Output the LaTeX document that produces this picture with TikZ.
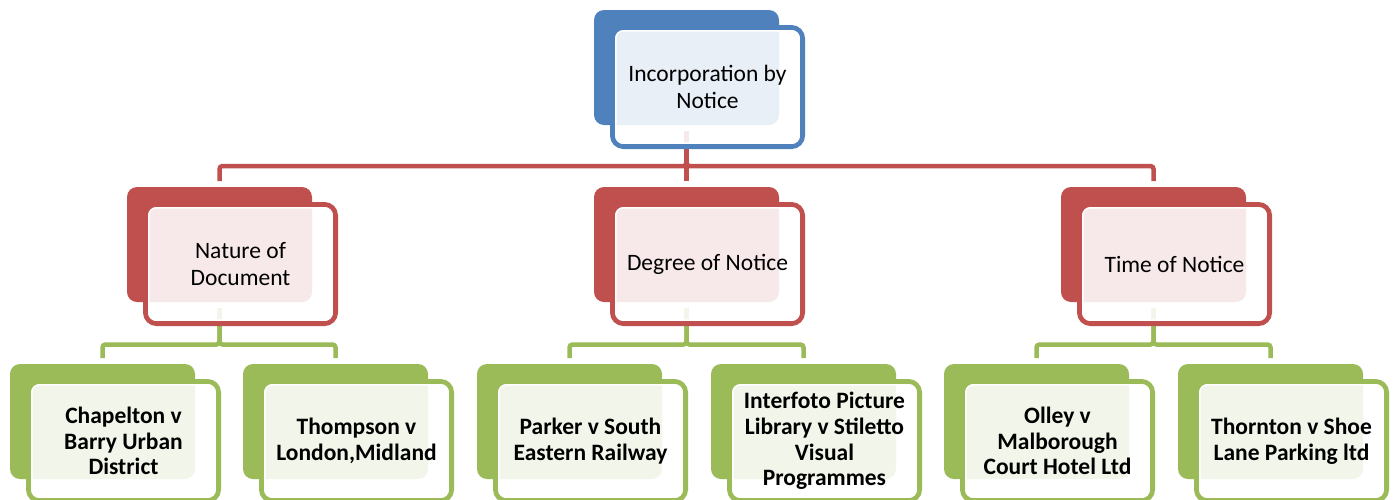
\documentclass[tikz,border=0pt]{standalone}
\usepackage{fontspec}
\setmainfont{Carlito}
\usetikzlibrary{calc}
\definecolor{cblue}{HTML}{4F81BD}
\definecolor{cred}{HTML}{C0504D}
\definecolor{cgreen}{HTML}{9BBB59}
\tikzset{
  backbox/.style={anchor=north west, minimum width=185pt, minimum height=115pt,
    inner sep=0pt, outer sep=0pt, rounded corners=10pt, fill=#1, draw=none},
  frontbox/.style={anchor=center, minimum width=190pt, minimum height=119pt,
    inner sep=0pt, outer sep=0pt, rounded corners=11pt, draw=#1, line width=5pt,
    fill=white, fill opacity=0.88, text opacity=1, align=center, text=black,
    font=\fontsize{23.5}{26.5}\selectfont},
  leafbox/.style={frontbox=#1, font=\fontsize{23.5}{25.6}\selectfont\bfseries},
  seam/.style={draw=white, line width=1.5pt, rounded corners=7.5pt},
  conn/.style={draw=#1, line width=4.5pt, rounded corners=3pt,
    shorten <=6pt, shorten >=6pt},
}
\begin{document}
\begin{tikzpicture}[x=1pt,y=-1pt]
\useasboundingbox (0,0) rectangle (1398,499);
\clip (0,0) rectangle (1398,499);
% back boxes
\node[backbox=cblue] (b0) at (594,10) {};
\node[backbox=cred] (b1) at (127,187) {};
\node[backbox=cred] (b2) at (594,187) {};
\node[backbox=cred] (b3) at (1061,187) {};
\node[backbox=cgreen] (c1) at (10,364) {};
\node[backbox=cgreen] (c2) at (243,364) {};
\node[backbox=cgreen] (c3) at (477,364) {};
\node[backbox=cgreen] (c4) at (711,364) {};
\node[backbox=cgreen] (c5) at (944,364) {};
\node[backbox=cgreen] (c6) at (1178,364) {};
% connectors
\coordinate (bus1) at (0,166);
\coordinate (bus2) at (0,344.5);
\draw[conn=cred] (b0.south) -- (b0.south |- bus1) -| (b1.north);
\draw[conn=cred] (b0.south) -- (b2.north);
\draw[conn=cred] (b0.south) -- (b0.south |- bus1) -| (b3.north);
\draw[conn=cgreen] (b1.south) -- (b1.south |- bus2) -| (c1.north);
\draw[conn=cgreen] (b1.south) -- (b1.south |- bus2) -| (c2.north);
\draw[conn=cgreen] (b2.south) -- (b2.south |- bus2) -| (c3.north);
\draw[conn=cgreen] (b2.south) -- (b2.south |- bus2) -| (c4.north);
\draw[conn=cgreen] (b3.south) -- (b3.south |- bus2) -| (c5.north);
\draw[conn=cgreen] (b3.south) -- (b3.south |- bus2) -| (c6.north);
% front boxes
\node[frontbox=cblue] (f0) at ($(b0.north west)+(113.5,77)$) {Incorporation by\\Notice};
\node[frontbox=cred] (f1) at ($(b1.north west)+(113.5,77)$) {Nature of\\Document};
\node[frontbox=cred] (f2) at ($(b2.north west)+(113.5,77)$) {Degree of Notice};
\node[frontbox=cred] (f3) at ($(b3.north west)+(113.5,77)$) {Time of Notice};
\node[leafbox=cgreen] (g1) at ($(c1.north west)+(113.5,77)$) {Chapelton v\\Barry Urban\\District};
\node[leafbox=cgreen] (g2) at ($(c2.north west)+(113.5,77)$) {Thompson v\\London,Midland};
\node[leafbox=cgreen] (g3) at ($(c3.north west)+(113.5,77)$) {Parker v South\\Eastern Railway};
\node[leafbox=cgreen] (g4) at ($(c4.north west)+(113.5,77)$) {Interfoto Picture\\Library v Stiletto\\Visual\\Programmes};
\node[leafbox=cgreen] (g5) at ($(c5.north west)+(113.5,77)$) {Olley v\\Malborough\\Court Hotel Ltd};
\node[leafbox=cgreen] (g6) at ($(c6.north west)+(113.5,77)$) {Thornton v Shoe\\Lane Parking ltd};
% white seams inside the front outlines
\foreach \f in {f0,f1,f2,f3,g1,g2,g3,g4,g5,g6}{
  \draw[seam] ([shift={(3.3,3.3)}]\f.north west) rectangle ([shift={(-3.3,-3.3)}]\f.south east);
}
\end{tikzpicture}
\end{document}
